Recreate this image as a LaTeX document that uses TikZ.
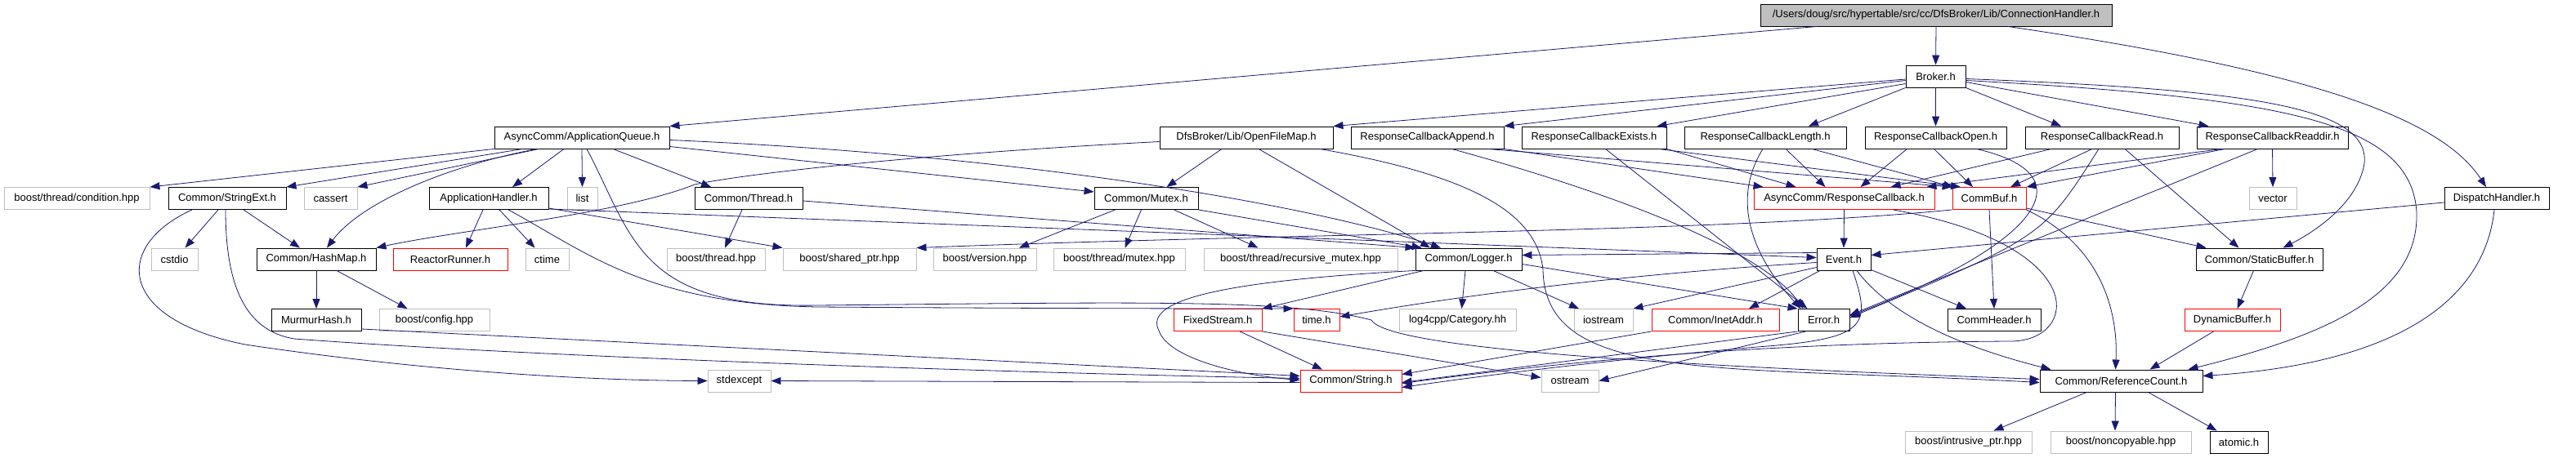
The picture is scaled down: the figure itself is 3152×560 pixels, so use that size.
\documentclass[tikz,border=0pt]{standalone}
\usepackage{fontspec}
\setmainfont{Liberation Sans}
\usepackage{tikz}
\usetikzlibrary{arrows.meta}
\definecolor{edgeblue}{RGB}{25,25,112}
\definecolor{sysgray}{RGB}{191,191,191}
\definecolor{truncred}{RGB}{255,0,0}

\begin{document}
\begin{tikzpicture}[x=1pt, y=-1pt,
    hdr/.style     ={rectangle, draw=black, line width=0.9pt, inner sep=0pt, minimum height=27pt, font=\fontsize{13}{15}\selectfont},
    sysinc/.style  ={hdr, draw=sysgray},
    trunc/.style   ={hdr, draw=truncred},
    rootfile/.style={hdr, fill=sysgray},
    dep/.style     ={-{Triangle[length=12pt, width=9pt]}, edgeblue, line width=0.8pt}
]
\def\rowA{18.5}\def\rowB{93.5}\def\rowC{168.5}\def\rowD{243}
\def\rowE{317.5}\def\rowF{392}\def\rowG{466.5}\def\rowH{541.5}
\useasboundingbox (0,0) rectangle (3152,560);

% --- root file and Broker.h ---
\node[rootfile, minimum width=430] (root) at (2369,\rowA) {/Users/doug/src/hypertable/src/cc/DfsBroker/Lib/ConnectionHandler.h};
\node[hdr, minimum width=73] (broker) at (2368.5,\rowB) {Broker.h};

% --- second level ---
\node[hdr, minimum width=214] (appqueue)    at (712,\rowC)    {AsyncComm/ApplicationQueue.h};
\node[hdr, minimum width=212] (openfilemap) at (1525,\rowC)   {DfsBroker/Lib/OpenFileMap.h};
\node[hdr, minimum width=187] (rcappend)    at (1746.5,\rowC) {ResponseCallbackAppend.h};
\node[hdr, minimum width=177] (rcexists)    at (1950.5,\rowC) {ResponseCallbackExists.h};
\node[hdr, minimum width=198] (rclength)    at (2160,\rowC)   {ResponseCallbackLength.h};
\node[hdr, minimum width=173] (rcopen)      at (2368.5,\rowC) {ResponseCallbackOpen.h};
\node[hdr, minimum width=188] (rcread)      at (2572,\rowC)   {ResponseCallbackRead.h};
\node[hdr, minimum width=185] (rcreaddir)   at (2780.5,\rowC) {ResponseCallbackReaddir.h};

% --- third level ---
\node[sysinc, minimum width=178] (condition)  at (94,\rowD)     {boost/thread/condition.hpp};
\node[hdr, minimum width=144]    (stringext)  at (278,\rowD)    {Common/StringExt.h};
\node[sysinc, minimum width=65]  (cassert)    at (404.5,\rowD)  {cassert};
\node[hdr, minimum width=146]    (apphandler) at (598,\rowD)    {ApplicationHandler.h};
\node[sysinc, minimum width=37]  (list)       at (712.5,\rowD)  {list};
\node[hdr, minimum width=132]    (thread)     at (916,\rowD)    {Common/Thread.h};
\node[hdr, minimum width=127]    (mutex)      at (1402.5,\rowD) {Common/Mutex.h};
\node[trunc, minimum width=221]  (respcb)     at (2256.5,\rowD) {AsyncComm/ResponseCallback.h};
\node[trunc, minimum width=90]   (commbuf)    at (2434,\rowD)   {CommBuf.h};
\node[sysinc, minimum width=58]  (vector)     at (2781,\rowD)   {vector};
\node[hdr, minimum width=128]    (dispatch)   at (3055,\rowD)   {DispatchHandler.h};

% --- fourth level ---
\node[sysinc, minimum width=57]  (cstdio)    at (213.5,\rowE)  {cstdio};
\node[hdr, minimum width=146]    (hashmap)   at (387,\rowE)    {Common/HashMap.h};
\node[trunc, minimum width=140]  (reactor)   at (551,\rowE)    {ReactorRunner.h};
\node[sysinc, minimum width=53]  (ctime)     at (669.5,\rowE)  {ctime};
\node[sysinc, minimum width=120] (bthread)   at (876,\rowE)    {boost/thread.hpp};
\node[sysinc, minimum width=163] (sharedptr) at (1039.5,\rowE) {boost/shared\_ptr.hpp};
\node[sysinc, minimum width=126] (bversion)  at (1205,\rowE)   {boost/version.hpp};
\node[sysinc, minimum width=161] (bmutex)    at (1369.5,\rowE) {boost/thread/mutex.hpp};
\node[sysinc, minimum width=237] (recmutex)  at (1591.5,\rowE) {boost/thread/recursive\_mutex.hpp};
\node[hdr, minimum width=130]    (logger)    at (1797,\rowE)   {Common/Logger.h};
\node[hdr, minimum width=66]     (event)     at (2256,\rowE)   {Event.h};
\node[hdr, minimum width=155]    (staticbuf) at (2764.5,\rowE) {Common/StaticBuffer.h};

% --- fifth level ---
\node[hdr, minimum width=110]    (murmur)      at (387,\rowF)    {MurmurHash.h};
\node[sysinc, minimum width=135] (bconfig)     at (531.5,\rowF)  {boost/config.hpp};
\node[trunc, minimum width=108]  (fixedstream) at (1490,\rowF)   {FixedStream.h};
\node[trunc, minimum width=56]   (timeh)       at (1611,\rowF)   {time.h};
\node[sysinc, minimum width=143] (category)    at (1783.5,\rowF) {log4cpp/Category.hh};
\node[sysinc, minimum width=72]  (iostream)    at (1962,\rowF)   {iostream};
\node[trunc, minimum width=156]  (inetaddr)    at (2099,\rowF)   {Common/InetAddr.h};
\node[hdr, minimum width=63]     (error)       at (2231.5,\rowF) {Error.h};
\node[hdr, minimum width=114]    (commheader)  at (2440,\rowF)   {CommHeader.h};
\node[trunc, minimum width=117]  (dynbuf)      at (2731.5,\rowF) {DynamicBuffer.h};

% --- bottom levels ---
\node[sysinc, minimum width=77]  (stdexcept) at (904.5,\rowG)  {stdexcept};
\node[trunc, minimum width=124]  (string)    at (1653,\rowG)   {Common/String.h};
\node[sysinc, minimum width=70]  (ostream)   at (1921,\rowG)   {ostream};
\node[hdr, minimum width=199]    (refcount)  at (2595.5,\rowG) {Common/ReferenceCount.h};
\node[sysinc, minimum width=155] (intrusive) at (2408.5,\rowH) {boost/intrusive\_ptr.hpp};
\node[sysinc, minimum width=172] (noncopy)   at (2595,\rowH)   {boost/noncopyable.hpp};
\node[hdr, minimum width=71]     (atomic)    at (2739.5,\rowH) {atomic.h};

% ============ includes ============
% root file
\draw[dep] ([xshift=-146pt]root.south) -- (appqueue.north east);
\draw[dep] (root.south) -- (broker.north);
\draw[dep] ([xshift=88pt]root.south) .. controls (2850,90) and (2990,150) .. ([xshift=-13pt]dispatch.north);

% Broker.h
\draw[dep] ([yshift=-3.5pt]broker.west) -- (openfilemap.north east);
\draw[dep] ([yshift=-5pt]broker.west) -- (rcappend.north east);
\draw[dep] ([yshift=-9pt]broker.west) -- ([xshift=-12pt]rcexists.north east);
\draw[dep] (broker.south west) -- ([xshift=53pt]rclength.north);
\draw[dep] (broker.south) -- (rcopen.north);
\draw[dep] (broker.south east) -- ([xshift=-50pt]rcread.north);
\draw[dep] ([yshift=-7pt]broker.east) -- ([xshift=-78pt]rcreaddir.north);
\draw[dep] ([yshift=-3pt]broker.east) .. controls (2750,110) and (2900,130) .. (2893,200) .. controls (2885,250) and (2830,285) .. ([xshift=-49pt]staticbuf.north east);
\draw[dep] ([yshift=-5pt]broker.east) .. controls (2800,120) and (2950,150) .. (2957,260) .. controls (2960,360) and (2850,410) .. ([xshift=-18pt]refcount.north east);

% DispatchHandler.h
\draw[dep] ([yshift=-5pt]dispatch.west) -- ([yshift=5pt]event.east);
\draw[dep] ([xshift=-3pt]dispatch.south) .. controls (3040,370) and (2930,445) .. ([yshift=6pt]refcount.east);

% AsyncComm/ApplicationQueue.h
\draw[dep] (appqueue.south west) -- (condition.north east);
\draw[dep] ([xshift=35pt]appqueue.south west) -- (stringext.north east);
\draw[dep] ([xshift=55pt]appqueue.south west) -- (cassert.north east);
\draw[dep] ([xshift=52pt]appqueue.south west) .. controls (540,205) and (440,250) .. ([xshift=13pt]hashmap.north);
\draw[dep] ([xshift=-22pt]appqueue.south) -- ([xshift=29pt]apphandler.north);
\draw[dep] (appqueue.south) -- (list.north);
\draw[dep] ([xshift=38pt]appqueue.south) -- ([xshift=-46pt]thread.north);
\draw[dep] ([yshift=-11pt]appqueue.east) -- ([yshift=8pt]mutex.west);
\draw[dep] ([yshift=-3pt]appqueue.east) .. controls (1250,190) and (1600,250) .. ([xshift=-34pt]logger.north);
\draw[dep] ([xshift=6pt]appqueue.south) .. controls (775,290) and (780,378) .. (1000,374) .. controls (1400,370) and (1580,366) .. (1678,392) .. controls (1700,430) and (2100,450) .. ([yshift=2pt]refcount.west);

% ApplicationHandler.h
\draw[dep] ([xshift=-7pt]apphandler.south) -- ([xshift=19pt]reactor.north);
\draw[dep] ([xshift=13pt]apphandler.south) -- ([xshift=-15pt]ctime.north);
\draw[dep] ([yshift=-12pt]apphandler.east) -- (sharedptr.north west);
\draw[dep] ([yshift=-13pt]apphandler.east) -- ([yshift=2pt]event.west);
\draw[dep] ([xshift=24pt]apphandler.south) .. controls (720,310) and (790,372) .. (1000,376) .. controls (1300,378) and (1500,378) .. (timeh.north west);

% Common/StringExt.h, HashMap.h, MurmurHash.h
\draw[dep] ([xshift=-11pt]stringext.south) -- ([xshift=13pt]cstdio.north);
\draw[dep] ([xshift=20pt]stringext.south) -- ([xshift=-20pt]hashmap.north);
\draw[dep] ([xshift=-2pt]stringext.south) .. controls (276,350) and (300,405) .. (360,415) .. controls (700,440) and (1300,458) .. ([yshift=3pt]string.west);
\draw[dep] ([xshift=-43pt]stringext.south) .. controls (140,300) and (140,390) .. (300,422) .. controls (500,452) and (700,466) .. (stdexcept.west);
\draw[dep] (hashmap.south) -- (murmur.north);
\draw[dep] ([xshift=25pt]hashmap.south) -- ([xshift=-33pt]bconfig.north);
\draw[dep] ([yshift=-11pt]murmur.east) -- ([yshift=6pt]string.west);

% DfsBroker/Lib/OpenFileMap.h
\draw[dep] ([yshift=-5pt]openfilemap.west) .. controls (1100,190) and (900,215) .. (850,226) .. controls (760,262) and (560,282) .. (hashmap.north east);
\draw[dep] ([xshift=-30pt]openfilemap.south) -- ([xshift=25pt]mutex.north);
\draw[dep] ([xshift=15pt]openfilemap.south) -- ([xshift=-47pt]logger.north);
\draw[dep] ([xshift=90pt]openfilemap.south) .. controls (1800,215) and (1880,260) .. (1888,330) .. controls (1890,470) and (2100,447) .. ([yshift=-2pt]refcount.west);

% ResponseCallback*.h
\draw[dep] (rcappend.south east) -- ([xshift=-99pt]respcb.north);
\draw[dep] ([xshift=-20pt]rcappend.south east) -- (commbuf.north west);
\draw[dep] ([xshift=30pt]rcappend.south) .. controls (1950,230) and (2150,300) .. ([xshift=-25pt]error.north);
\draw[dep] (rcexists.south east) -- ([xshift=-59pt]respcb.north);
\draw[dep] ([xshift=-10pt]rcexists.south east) -- ([xshift=-35pt]commbuf.north);
\draw[dep] ([xshift=14pt]rcexists.south) -- ([xshift=-20pt]error.north);
\draw[dep] ([xshift=-3pt]rclength.south) .. controls (2115,250) and (2150,320) .. ([xshift=-28pt]error.north);
\draw[dep] ([xshift=25pt]rclength.south) -- ([xshift=-23pt]respcb.north);
\draw[dep] ([xshift=57pt]rclength.south) -- ([xshift=-44pt]commbuf.north);
\draw[dep] ([xshift=-35pt]rcopen.south) -- ([xshift=20pt]respcb.north);
\draw[dep] ([xshift=-2pt]rcopen.south) -- ([xshift=-20pt]commbuf.north);
\draw[dep] ([xshift=50pt]rcopen.south) .. controls (2560,215) and (2490,300) .. ([yshift=5pt]error.east);
\draw[dep] ([xshift=-62pt]rcread.south) -- ([xshift=57pt]respcb.north);
\draw[dep] ([xshift=-12pt]rcread.south) -- ([xshift=26pt]commbuf.north);
\draw[dep] ([xshift=-4pt]rcread.south) .. controls (2500,290) .. ([yshift=3pt]error.east);
\draw[dep] ([xshift=28pt]rcread.south) -- ([xshift=-25pt]staticbuf.north);
\draw[dep] ([xshift=-58pt]rcreaddir.south) -- (commbuf.north east);
\draw[dep] ([xshift=-62pt]rcreaddir.south) -- ([xshift=-10pt]respcb.north east);
\draw[dep] (rcreaddir.south) -- (vector.north);
\draw[dep] ([xshift=-18pt]rcreaddir.south) -- ([yshift=6pt]error.east);

% AsyncComm/ResponseCallback.h, CommBuf.h
\draw[dep] (respcb.south) -- (event.north);
\draw[dep] ([xshift=60pt]respcb.south) .. controls (2560,300) and (2545,418) .. (2460,418) .. controls (2100,420) and (1850,452) .. ([yshift=-3pt]string.east);
\draw[dep] (commbuf.south) -- (commheader.north);
\draw[dep] ([yshift=-12pt]commbuf.east) -- ([xshift=-65pt]staticbuf.north);
\draw[dep] (commbuf.south east) .. controls (2570,300) and (2592,380) .. ([xshift=-7pt]refcount.north);
\draw[dep] (commbuf.south west) .. controls (2100,285) and (1600,285) .. (sharedptr.north east);

% Common/Thread.h, Common/Mutex.h
\draw[dep] ([xshift=-8pt]thread.south) -- ([xshift=11pt]bthread.north);
\draw[dep] ([yshift=-3pt]thread.east) -- (logger.north west);
\draw[dep] ([xshift=-38pt]mutex.south) -- ([xshift=42pt]bversion.north);
\draw[dep] ([xshift=-6pt]mutex.south) -- ([xshift=7pt]bmutex.north);
\draw[dep] ([xshift=34pt]mutex.south) -- ([xshift=-52pt]recmutex.north);
\draw[dep] (mutex.south east) -- ([xshift=8pt]logger.north west);

% Event.h
\draw[dep] ([xshift=-29pt]event.south) -- ([xshift=41pt]inetaddr.north);
\draw[dep] ([yshift=-4pt]event.west) .. controls (2000,335) and (1800,360) .. ([yshift=4pt]timeh.east);
\draw[dep] ([yshift=-10pt]event.west) -- (iostream.north east);
\draw[dep] ([yshift=8pt]event.west) -- ([yshift=5pt]logger.east);
\draw[dep] ([yshift=-13pt]event.east) -- ([xshift=-34pt]commheader.north);
\draw[dep] ([xshift=16pt]event.south) .. controls (2320,395) and (2420,430) .. ([xshift=-86pt]refcount.north);
\draw[dep] ([xshift=11pt]event.south) .. controls (2290,400) and (2285,415) .. (2150,425) .. controls (2000,438) and (1850,455) .. ([yshift=-8pt]string.east);

% Common/Logger.h
\draw[dep] ([xshift=-4pt]logger.south) -- ([xshift=5pt]category.north);
\draw[dep] ([xshift=30pt]logger.south) -- ([xshift=-30pt]iostream.north);
\draw[dep] ([xshift=-55pt]logger.south) -- (fixedstream.north east);
\draw[dep] (logger.south west) .. controls (1480,345) and (1400,370) .. (1418,405) .. controls (1430,440) and (1520,460) .. ([yshift=1pt]string.west);
\draw[dep] ([yshift=-6pt]logger.east) -- (error.north west);

% InetAddr.h, Error.h, FixedStream.h, String.h
\draw[dep] (inetaddr.south west) -- ([yshift=8pt]string.east);
\draw[dep] (error.south west) -- ([yshift=-2pt]string.east);
\draw[dep] ([xshift=10pt]error.south west) -- (ostream.east);
\draw[dep] ([xshift=27pt]fixedstream.south) -- ([xshift=-35pt]string.north);
\draw[dep] (fixedstream.south east) -- ([yshift=4pt]ostream.west);
\draw[dep] ([yshift=-2pt]string.west) -- (stdexcept.east);

% buffers and reference counting
\draw[dep] ([xshift=-7pt]staticbuf.south) -- ([xshift=6pt]dynbuf.north);
\draw[dep] ([xshift=-23pt]dynbuf.south) -- ([xshift=35pt]refcount.north);
\draw[dep] ([xshift=-42pt]refcount.south) -- ([xshift=31pt]intrusive.north);
\draw[dep] ([xshift=-7pt]refcount.south) -- ([xshift=-7pt]noncopy.north);
\draw[dep] ([xshift=33pt]refcount.south) -- ([xshift=-27pt]atomic.north);
\end{tikzpicture}
\end{document}
